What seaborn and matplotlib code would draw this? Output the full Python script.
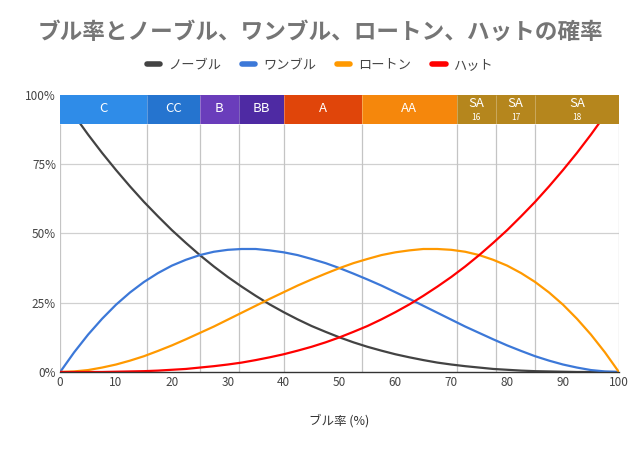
import matplotlib
matplotlib.use("Agg")
import matplotlib.pyplot as plt
import numpy as np
import pandas as pd
import seaborn as sns

# ブル率 (%) and curve values (%)
bull = [0, 2.5, 5, 7.5, 10, 12.5, 15, 17.5, 20, 22.5, 25, 27.5, 30, 32.5, 35, 37.5, 40, 42.5,
        45, 47.5, 50, 52.5, 55, 57.5, 60, 62.5, 65, 67.5, 70, 72.5, 75, 77.5, 80, 82.5, 85,
        87.5, 90, 92.5, 95, 97.5, 100]
noble = [100, 92.7, 85.7, 79.1, 72.9, 67.0, 61.4, 56.2, 51.2, 46.6, 42.2, 38.1, 34.3, 30.8,
         27.5, 24.4, 21.6, 19.0, 16.6, 14.5, 12.5, 10.7, 9.1, 7.7, 6.4, 5.3, 4.3, 3.4, 2.7,
         2.1, 1.6, 1.1, 0.8, 0.5, 0.3, 0.2, 0.1, 0.0, 0.0, 0.0, 0]
one_bull = [0, 7.1, 13.5, 19.2, 24.3, 28.7, 32.5, 35.7, 38.4, 40.5, 42.2, 43.4, 44.1, 44.4,
            44.4, 43.9, 43.2, 42.2, 40.8, 39.3, 37.5, 35.5, 33.4, 31.2, 28.8, 26.4, 23.9,
            21.4, 18.9, 16.4, 14.1, 11.8, 9.6, 7.6, 5.7, 4.1, 2.7, 1.6, 0.7, 0.2, 0]
rotten = [0, 0.2, 0.7, 1.6, 2.7, 4.1, 5.7, 7.6, 9.6, 11.8, 14.1, 16.4, 18.9, 21.4, 23.9,
          26.4, 28.8, 31.2, 33.4, 35.5, 37.5, 39.3, 40.8, 42.2, 43.2, 43.9, 44.4, 44.4, 44.1,
          43.4, 42.2, 40.5, 38.4, 35.7, 32.5, 28.7, 24.3, 19.2, 13.5, 7.1, 0]
hat = [0, 0.0, 0.0, 0.0, 0.1, 0.2, 0.3, 0.5, 0.8, 1.1, 1.6, 2.1, 2.7, 3.4, 4.3, 5.3, 6.4,
       7.7, 9.1, 10.7, 12.5, 14.5, 16.6, 19.0, 21.6, 24.4, 27.5, 30.8, 34.3, 38.1, 42.2,
       46.6, 51.2, 56.2, 61.4, 67.0, 72.9, 79.1, 85.7, 92.7, 100]

series_names = ["ノーブル", "ワンブル", "ロートン", "ハット"]
series_colors = ["#434343", "#3c78d8", "#ff9900", "#ff0000"]

# rank bands along the top
band_edges = [0, 15.6, 25, 32, 40, 54, 71, 78, 85, 100]
band_labels = ["C", "CC", "B", "BB", "A", "AA", "SA", "SA", "SA"]
band_sub = ["", "", "", "", "", "", "16", "17", "18"]
band_colors = ["#2f8ce8", "#2574cf", "#6a3dbb", "#4e2aa3", "#e0450a",
               "#f5870c", "#b5861d", "#b5861d", "#b5861d"]

df = pd.DataFrame({"bull": bull * 4,
                   "value": noble + one_bull + rotten + hat,
                   "series": sum([[n] * len(bull) for n in series_names], [])})

sns.set_style("white")
plt.rcParams["font.family"] = ["Noto Sans CJK JP", "DejaVu Sans"]

fig = plt.figure(figsize=(6.4, 4.49), dpi=100)
ax = fig.add_axes([0.094, 0.1715, 0.873, 0.617])

band_lo = 89.5
ax.hlines([25, 50, 75], 0, 100, color="#d0d0d0", linewidth=0.9, zorder=1)
ax.vlines(band_edges, 0, band_lo, color="#c4c4c4", linewidth=0.9, zorder=1)

sns.lineplot(data=df, x="bull", y="value", hue="series", palette=series_colors,
             linewidth=1.6, ax=ax, legend=False, zorder=3)

for i, lab in enumerate(band_labels):
    x0, x1 = band_edges[i], band_edges[i + 1]
    ax.fill_between([x0, x1], band_lo, 100, color=band_colors[i], zorder=5, linewidth=0)
    xm = (x0 + x1) / 2
    if band_sub[i]:
        ax.text(xm, 97.0, lab, ha="center", va="center", color="white", fontsize=9.5, zorder=6)
        ax.text(xm, 92.0, band_sub[i], ha="center", va="center", color="white", fontsize=6, zorder=6)
    else:
        ax.text(xm, 95.0, lab, ha="center", va="center", color="white", fontsize=9.5, zorder=6)
for e in band_edges[1:-1]:
    ax.vlines(e, band_lo, 100, color="#ffffff", linewidth=0.4, alpha=0.5, zorder=5.5)

ax.set_xlim(0, 100)
ax.set_ylim(0, 100)
ax.set_xticks(range(0, 101, 10))
ax.set_yticks([0, 25, 50, 75, 100])
ax.set_yticklabels(["0%", "25%", "50%", "75%", "100%"])
ax.tick_params(axis="both", labelsize=8.5, colors="#444444", length=0, pad=3)
for s in ["top", "right", "left"]:
    ax.spines[s].set_visible(False)
ax.spines["bottom"].set_color("#333333")
ax.spines["bottom"].set_linewidth(1.0)
ax.spines["bottom"].set_zorder(4)

ax.set_xlabel("ブル率 (%)", fontsize=9, color="#333333", labelpad=18)
ax.set_ylabel("")

fig.text(0.5, 0.928, "ブル率とノーブル、ワンブル、ロートン、ハットの確率",
         ha="center", va="center", fontsize=16.3, fontweight="bold", color="#757575")

# legend
handles = [plt.Line2D([0], [0], color=c, linewidth=4) for c in series_colors]
fig.legend(handles, series_names, loc="center", bbox_to_anchor=(0.5, 0.855), ncol=4,
           frameon=False, fontsize=9.5, handlelength=1.0, handletextpad=0.6,
           columnspacing=1.6, labelcolor="#444444")

fig.savefig("out.png", dpi=100)
